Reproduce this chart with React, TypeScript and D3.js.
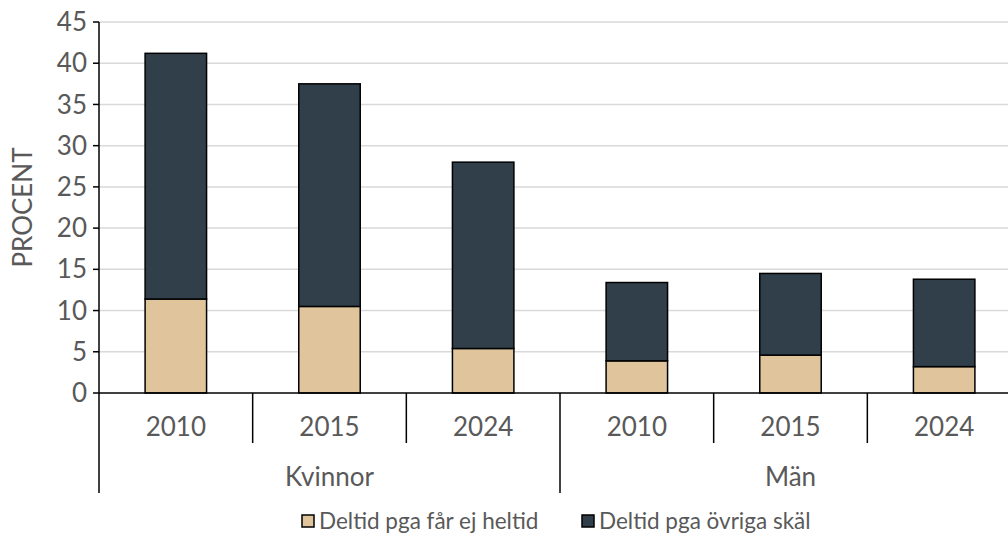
import React from 'react';
import * as d3 from 'd3';

const groups = ['Kvinnor', 'Män'];
const years = ['2010', '2015', '2024'];
// Deltid pga får ej heltid
const involuntary = [11.4, 10.5, 5.4, 3.9, 4.6, 3.2];
// Deltid pga övriga skäl
const otherReasons = [29.8, 27.0, 22.6, 9.5, 9.9, 10.6];
const seriesNames = ['Deltid pga får ej heltid', 'Deltid pga övriga skäl'];
const yTicks = [0, 5, 10, 15, 20, 25, 30, 35, 40, 45];

const colors = ['#dfc49c', '#313f4b'];
const textColor = '#595959';
const font = 'Lato, "Open Sans", sans-serif';

const App: React.FC = () => {
  const width = 1008;
  const height = 534;
  const left = 99;
  const right = 1021;
  const top = 22;
  const bottom = 393;

  const rows = groups.flatMap((g, gi) =>
    years.map((yr, yi) => ({
      key: `${g}-${yr}`,
      group: g,
      year: yr,
      inv: involuntary[gi * years.length + yi],
      other: otherReasons[gi * years.length + yi],
    }))
  );

  const x = d3.scaleBand<string>()
    .domain(rows.map(r => r.key))
    .range([left, right])
    .padding(0);

  const gx = d3.scaleBand<string>()
    .domain(groups)
    .range([left, right])
    .padding(0);

  const y = d3.scaleLinear().domain([0, 45]).range([bottom, top]);

  const stack = d3.stack<typeof rows[number]>().keys(['inv', 'other']);
  const layers = stack(rows as any);

  const barW = x.bandwidth() * 0.4;

  return (
    <div style={{ position: 'fixed', left: 0, top: 0 }}>
      <svg width={width} height={height} style={{ display: 'block', fontFamily: font }}>
        <rect width={width} height={height} fill="#fff" />
        {/* gridlines */}
        {yTicks.filter(t => t > 0).map(t => (
          <line key={t} x1={left} x2={right} y1={y(t)} y2={y(t)} stroke="#d9d9d9" strokeWidth={1.5} />
        ))}
        {/* bars */}
        {layers.map((layer, li) => (
          <g key={li}>
            {layer.map((d, i) => {
              const cx = (x(rows[i].key) || 0) + x.bandwidth() / 2;
              return (
                <rect
                  key={i}
                  x={cx - barW / 2}
                  y={y(d[1])}
                  width={barW}
                  height={y(d[0]) - y(d[1])}
                  fill={colors[li]}
                  stroke="#000"
                  strokeWidth={1.5}
                />
              );
            })}
          </g>
        ))}
        {/* y axis */}
        <line x1={left} x2={left} y1={top} y2={bottom} stroke="#000" strokeWidth={1.5} />
        {yTicks.map(t => (
          <g key={t}>
            <line x1={left - 6} x2={left} y1={y(t)} y2={y(t)} stroke="#000" strokeWidth={1.5} />
            <text x={left - 12} y={y(t)} dy="0.35em" textAnchor="end" fontSize={26} fill={textColor}>
              {t}
            </text>
          </g>
        ))}
        <text
          transform={`translate(32, ${(top + bottom) / 2}) rotate(-90)`}
          textAnchor="middle"
          fontSize={26}
          fill={textColor}
        >
          PROCENT
        </text>
        {/* category axis */}
        <line x1={left} x2={right} y1={bottom} y2={bottom} stroke="#000" strokeWidth={1.5} />
        {rows.map((r, i) => {
          const x0 = x(r.key) || 0;
          const isGroupStart = i % years.length === 0;
          return (
            <g key={r.key}>
              {!isGroupStart && (
                <line x1={x0} x2={x0} y1={bottom} y2={443} stroke="#000" strokeWidth={1.5} />
              )}
              <text x={x0 + x.bandwidth() / 2} y={427} dy="0.35em" textAnchor="middle" fontSize={26} fill={textColor}>
                {r.year}
              </text>
            </g>
          );
        })}
        {groups.map(g => {
          const g0 = gx(g) || 0;
          return (
            <g key={g}>
              <line x1={g0} x2={g0} y1={bottom} y2={493} stroke="#000" strokeWidth={1.5} />
              <text x={g0 + gx.bandwidth() / 2} y={477} dy="0.35em" textAnchor="middle" fontSize={26} fill={textColor}>
                {g}
              </text>
            </g>
          );
        })}
        <line x1={right} x2={right} y1={bottom} y2={493} stroke="#000" strokeWidth={1.5} />
        {/* legend */}
        {seriesNames.map((s, i) => {
          const lx = i === 0 ? 302 : 582;
          return (
            <g key={s} transform={`translate(${lx}, 515)`}>
              <rect x={0} y={0} width={12} height={12} fill={colors[i]} stroke="#000" strokeWidth={1.5} />
              <text x={17} y={6} dy="0.35em" fontSize={22.5} fill={textColor}>
                {s}
              </text>
            </g>
          );
        })}
      </svg>
    </div>
  );
};

export default App;
